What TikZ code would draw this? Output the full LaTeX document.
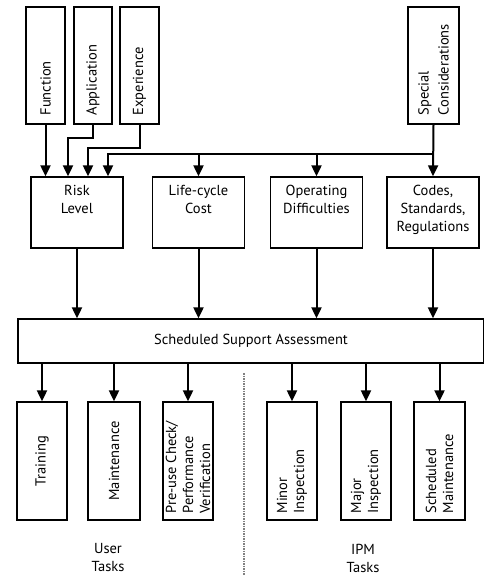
\documentclass[tikz,border=0pt]{standalone}
\usepackage{fontspec}
\setmainfont{PT Sans}
\usetikzlibrary{arrows.meta}

\begin{document}
\begin{tikzpicture}[x=1pt,y=-1pt,
    font=\fontsize{14.5}{18}\selectfont,
    box/.style ={draw, line width=1.3pt, inner sep=0pt},
    tallbox/.style ={box, minimum height=117pt},
    midbox/.style ={box, minimum width=92pt, minimum height=71pt},
    lowbox/.style ={box, minimum width=50pt, minimum height=118pt},
    uptext/.style ={rotate=90, anchor=west, align=left, inner sep=0pt,
                    font=\fontsize{14.5}{17}\selectfont},
    toptext/.style ={anchor=north, align=center, inner sep=0pt, yshift=-9pt},
    flow/.style ={line width=2pt, -{Triangle[width=10pt,length=11pt]}}]
   \useasboundingbox (0,0) rectangle (483,575);
   % input boxes
   \node[tallbox, minimum width=39pt] (fun)  at (45.5,65.5)  {};
   \node[tallbox, minimum width=38pt] (app)  at (93,65.5)    {};
   \node[tallbox, minimum width=39pt] (exp)  at (139.5,65.5) {};
   \node[tallbox, minimum width=51pt] (spec) at (433.5,65.5) {};
   \node[uptext] (funt)  at ([yshift=9pt]fun.south)  {Function};
   \node[uptext] (appt)  at ([yshift=9pt]app.south)  {Application};
   \node[uptext] (expt)  at ([yshift=9pt]exp.south)  {Experience};
   \node[uptext, font=\fontsize{14.5}{20}\selectfont] (spect) at ([yshift=9pt]spec.south) {Special\\Considerations};
   % criteria
   \node[midbox] (risk)  at (77,212.5)  {};
   \node[midbox] (cost)  at (198.5,212.5) {};
   \node[midbox] (oper)  at (316.5,212.5) {};
   \node[midbox] (codes) at (433,212.5) {};
   \node[toptext] (riskt)  at (risk.north)  {Risk\\Level};
   \node[toptext] (costt)  at (cost.north)  {Life-cycle\\Cost};
   \node[toptext] (opert)  at (oper.north)  {Operating\\Difficulties};
   \node[toptext] (codest) at (codes.north) {Codes,\\Standards,\\Regulations};
   % assessment
   \node[box, minimum width=466pt, minimum height=44pt] (assess) at (251,341)
        {Scheduled Support Assessment};
   % tasks
   \node[lowbox] (train) at (42,461)    {};
   \node[lowbox, minimum width=52pt] (maint) at (114,461) {};
   \node[lowbox] (pre)   at (188,461)   {};
   \node[lowbox] (minor) at (292,461)   {};
   \node[lowbox] (major) at (366,461)   {};
   \node[lowbox, minimum width=51pt] (sched) at (439.5,461) {};
   \node[uptext, anchor=center] (traint) at (train) {Training};
   \node[uptext, anchor=center] (maintt) at (maint) {Maintenance};
   \node[uptext] (pret)   at ([yshift=7pt]pre.south)   {Pre-use Check/\\Performance\\Verification};
   \node[uptext] (minort) at ([yshift=7pt]minor.south) {Minor\\Inspection};
   \node[uptext] (majort) at ([yshift=7pt]major.south) {Major\\Inspection};
   \node[uptext] (schedt) at ([yshift=7pt]sched.south) {Scheduled\\Maintenance};
   \node[align=center, inner sep=0pt] (user) at (108,558) {User\\Tasks};
   \node[align=center, inner sep=0pt] (ipm)  at (363,558) {IPM\\Tasks};
   \coordinate (bus) at (433,154);
   \coordinate (divtop) at (244,373);
   \coordinate (divbot) at (244,580);
   % connectors
   \draw[flow] (fun.south) -- (fun.south |- risk.north);
   \draw[flow] (app.south) -- ++(0,13) -| ([xshift=-9pt]risk.north);
   \draw[flow] (exp.south) -- ++(0,23) -| ([xshift=11pt]risk.north);
   \draw[flow] (spec.south) -- (codes.north);
   \draw[flow] (bus) -| ([xshift=31pt]risk.north);
   \draw[flow] (bus -| cost) -- (cost.north);
   \draw[flow] (bus -| oper) -- (oper.north);
   \foreach \src in {risk,cost,oper,codes}
     \draw[flow] (\src.south) -- (\src.south |- assess.north);
   \foreach \dst in {train,maint,pre,minor,major,sched}
     \draw[flow] (assess.south -| \dst) -- (\dst.north);
   \draw[line width=1.5pt, densely dotted, gray] (divtop) -- (divbot);
\end{tikzpicture}
\end{document}
